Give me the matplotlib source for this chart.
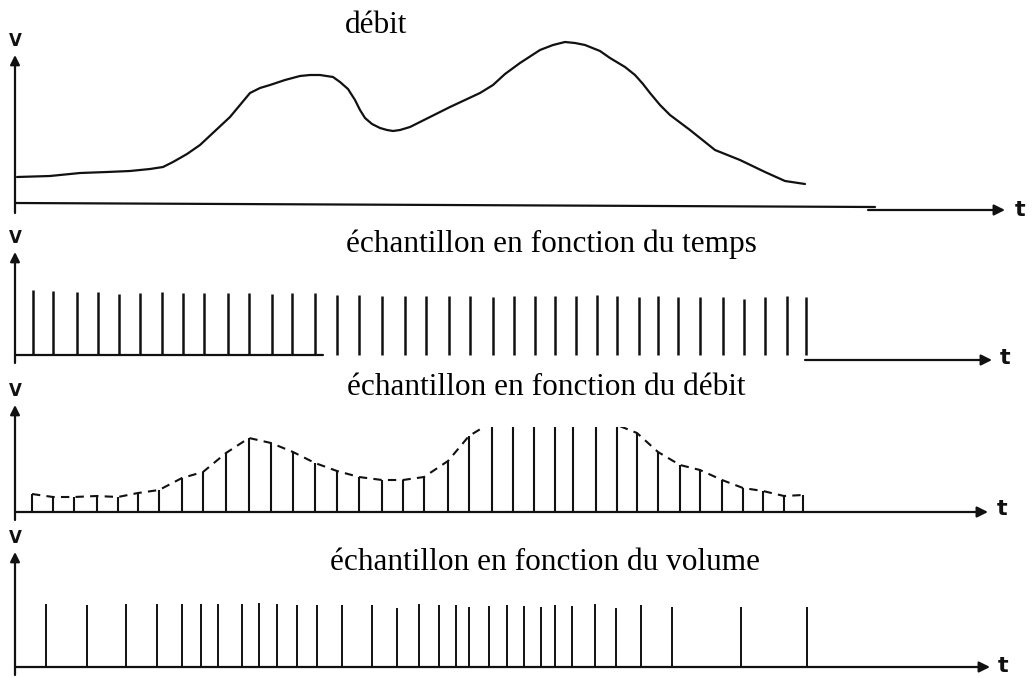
import matplotlib
matplotlib.use("Agg")
import matplotlib.pyplot as plt

# débit (flow) curve: time position / height above axis
flow_t = [17, 50, 80, 107, 130, 150, 163, 173, 187, 200, 215, 230, 240, 250, 260, 270, 285,
          300, 310, 320, 333, 340, 348, 355, 360, 365, 372, 380, 387, 393, 400, 410, 430, 450,
          480, 493, 505, 520, 540, 553, 565, 575, 585, 600, 610, 625, 635, 643, 650, 660, 670,
          690, 715, 740, 765, 785, 805]
flow_v = [28, 29, 32, 33, 34, 36, 38, 43, 51, 60, 74, 88, 100, 112, 117, 120, 125,
          129, 130, 130, 128, 123, 116, 105, 95, 87, 81, 77, 75, 74, 75, 78, 88, 98,
          112, 120, 131, 142, 155, 160, 163, 162, 160, 154, 147, 138, 130, 121, 112, 100, 90,
          75, 55, 45, 33, 24, 21]

# échantillon en fonction du temps
time_t = [33, 53, 77, 98, 119, 140, 162, 183, 204, 228, 249, 272, 292, 315, 337, 359,
          382, 405, 426, 449, 470, 493, 514, 535, 555, 576, 597, 617, 639, 658, 678,
          700, 723, 744, 765, 787, 806]
time_h = [65, 64, 63, 63, 61, 62, 63, 62, 62, 62, 62, 61, 62, 62, 60, 60,
          59, 59, 59, 59, 59, 58, 59, 59, 59, 59, 60, 59, 58, 59, 58,
          58, 58, 56, 58, 59, 58]

# échantillon en fonction du débit
debit_t = [32, 53, 74, 97, 118, 138, 159, 182, 203, 226, 249, 271, 293, 315, 337, 359,
           382, 403, 424, 448, 469, 492, 513, 534, 555, 573, 596, 617, 637, 658, 680,
           700, 722, 743, 763, 784, 803]
debit_h = [18, 15, 15, 16, 15, 19, 22, 34, 40, 59, 74, 69, 60, 49, 41, 35,
           32, 32, 35, 51, 76, 90, 100, 106, 108, 108, 104, 87, 79, 60, 47,
           42, 32, 24, 21, 16, 17]

# échantillon en fonction du volume
vol_t = [46, 87, 126, 157, 182, 201, 218, 242, 259, 277, 297, 317, 342, 372, 397, 419,
         439, 456, 469, 489, 507, 524, 541, 555, 572, 595, 616, 641, 672, 741, 807]
vol_h = [63, 62, 63, 63, 63, 63, 63, 63, 64, 63, 62, 62, 62, 62, 59, 63,
         62, 62, 60, 61, 62, 61, 60, 62, 61, 63, 59, 62, 60, 60, 60]

titles = ["débit", "échantillon en fonction du temps",
          "échantillon en fonction du débit", "échantillon en fonction du volume"]

W, H = 1036, 678
ink = "#111111"
fig = plt.figure(figsize=(W / 100, H / 100), dpi=100)


def panel(top, bottom, base):
    # axes spanning full width, x in picture units, y = height above the t axis
    ax = fig.add_axes([0, 1 - bottom / H, 1, (bottom - top) / H])
    ax.set_xlim(0, W)
    ax.set_ylim(base - bottom, base - top)
    ax.axis("off")
    return ax


def axis_arrow(ax, x0, x1, y0, y1=None, head=True):
    if y1 is None:
        y1 = y0
    style = "-|>" if head else "-"
    ax.annotate("", xy=(x1, y1), xytext=(x0, y0), annotation_clip=False,
                arrowprops=dict(arrowstyle=style, color=ink, lw=1.6,
                                mutation_scale=16, shrinkA=0, shrinkB=0))


def labels(ax, vtop, tx, ty):
    ax.annotate("", xy=(15, vtop), xytext=(15, -8), annotation_clip=False,
                arrowprops=dict(arrowstyle="-|>", color=ink, lw=1.6,
                                mutation_scale=14, shrinkA=0, shrinkB=0))
    ax.text(15, vtop + 5, "V", ha="center", va="bottom", fontsize=12,
            fontweight="bold", family="DejaVu Sans", color=ink, clip_on=False)
    ax.text(tx, ty, "t", ha="left", va="center", fontsize=16,
            fontweight="bold", family="DejaVu Sans", color=ink, clip_on=False)


# panel 1 : débit
ax1 = panel(0, 235, 205)
ax1.plot(flow_t, flow_v, color=ink, lw=1.6, solid_capstyle="round",
         solid_joinstyle="round")
axis_arrow(ax1, 15, 875, 2, -2, head=False)
axis_arrow(ax1, 868, 1005, -5)
labels(ax1, 150, 1015, -5)

# panel 2 : time sampling
ax2 = panel(245, 380, 355)
ax2.vlines(time_t, 0, time_h, color=ink, lw=1.8)
axis_arrow(ax2, 15, 323, 0, head=False)
axis_arrow(ax2, 805, 992, -5)
labels(ax2, 103, 1000, -3)

# panel 3 : flow-proportional sampling
ax3 = panel(427, 530, 512)
ax3.vlines(debit_t, 0, debit_h, color=ink, lw=1.5)
ax3.plot(debit_t, debit_h, color=ink, lw=1.5, linestyle=(0, (4, 3)))
axis_arrow(ax3, 15, 988, 0)
labels(ax3, 107, 997, 3)

# panel 4 : volume-proportional sampling
ax4 = panel(590, 678, 667)
ax4.vlines(vol_t, 0, vol_h, color=ink, lw=1.4)
axis_arrow(ax4, 15, 990, 0)
labels(ax4, 115, 998, 1)

# titles
title_pos = [(376, 33), (551, 252), (546, 395), (545, 570)]
for txt, (x, y) in zip(titles, title_pos):
    fig.text(x / W, 1 - y / H, txt, ha="center", va="baseline",
             fontsize=22.5, family="Liberation Serif", color="black")

fig.savefig("out.png", dpi=100, facecolor="white")
